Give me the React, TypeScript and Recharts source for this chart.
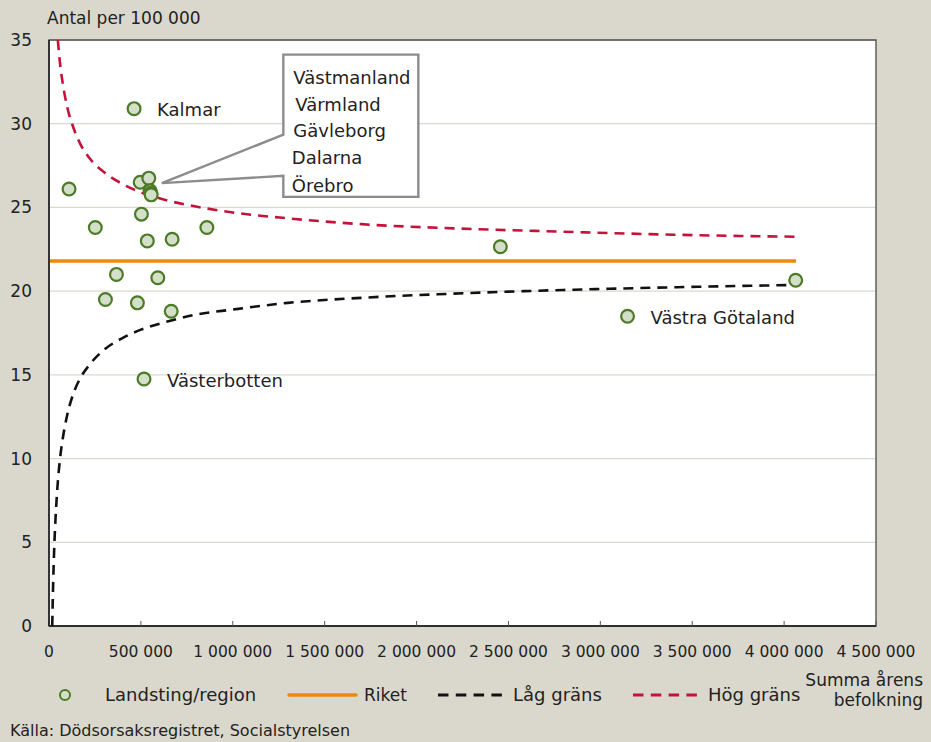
import React from 'react';
import {
  ComposedChart,
  Line,
  Scatter,
  XAxis,
  YAxis,
  CartesianGrid,
  ReferenceArea,
  ReferenceDot,
} from 'recharts';

// ---------- data ----------
const regionNames = [
  'Kalmar', 'Gotland', 'Region 3', 'Region 4', 'Region 5', 'Region 6', 'Region 7',
  'Region 8', 'Västmanland', 'Värmland', 'Gävleborg', 'Dalarna', 'Region 13',
  'Region 14', 'Region 15', 'Region 16', 'Region 17', 'Västerbotten', 'Skåne',
  'Västra Götaland', 'Stockholm',
];
const regionPopulation = [
  463000, 109000, 252000, 367000, 307000, 481000, 503000,
  496000, 543000, 550000, 554000, 556000, 535000,
  670000, 859000, 592000, 665000, 517000, 2456000,
  3148000, 4063000,
];
const regionRate = [
  30.9, 26.1, 23.8, 21.0, 19.5, 19.3, 24.6,
  26.5, 26.75, 26.0, 25.85, 25.75, 23.0,
  23.1, 23.8, 20.8, 18.8, 14.75, 22.65,
  18.5, 20.65,
];
const labelledRegions = ['Kalmar', 'Västerbotten', 'Västra Götaland'];
const calloutRegions = ['Västmanland', 'Värmland', 'Gävleborg', 'Dalarna', 'Örebro'];

const riketPopulation = [0, 4065000];
const riketRate = [21.8, 21.8];

const lowBoundPopulation = [
  17600, 20000, 25000, 30000, 40000, 48000, 60000, 75000, 100000, 130000, 170000,
  220000, 300000, 400000, 500000, 650000, 800000, 1000000, 1300000, 1700000,
  2200000, 2800000, 3400000, 4065000,
];
const lowBound = [
  0, 1.3, 3.5, 5.1, 7.3, 8.6, 10.0, 11.2, 12.65, 13.8, 14.8,
  15.6, 16.5, 17.2, 17.7, 18.2, 18.6, 18.9, 19.3, 19.6,
  19.85, 20.07, 20.23, 20.37,
];
const highBoundPopulation = [
  48000, 60000, 75000, 100000, 130000, 170000, 220000, 300000, 400000, 500000,
  650000, 800000, 1000000, 1300000, 1700000, 2200000, 2800000, 3400000, 4065000,
];
const highBound = [
  35.0, 33.6, 32.4, 30.95, 29.85, 28.8, 27.95, 27.1, 26.4, 25.9,
  25.4, 25.05, 24.7, 24.35, 24.0, 23.75, 23.55, 23.37, 23.25,
];

const xTicks = [0, 500000, 1000000, 1500000, 2000000, 2500000, 3000000, 3500000, 4000000, 4500000];
const yTicks = [0, 5, 10, 15, 20, 25, 30, 35];
const calloutAnchor = { x: 614000, y: 26.45 };

// ---------- built tables ----------
const regionData = regionNames.map((name, i) => ({
  name,
  x: regionPopulation[i],
  y: regionRate[i],
  label: labelledRegions.includes(name) ? name : '',
}));
const riketData = riketPopulation.map((x, i) => ({ x, y: riketRate[i] }));
const lowData = lowBoundPopulation.map((x, i) => ({ x, y: lowBound[i] }));
const highData = highBoundPopulation.map((x, i) => ({ x, y: highBound[i] }));

// ---------- styles ----------
const FONT = '"DejaVu Sans", Verdana, sans-serif';
const BG = '#DAD8CC';
const TEXT = '#222222';
const GRID = '#DAD8CF';
const GREEN = '#4C7A27';
const GREEN_FILL = '#D3DFC8';
const ORANGE = '#EC8A10';
const RED = '#C4123A';
const BLACK = '#111111';

const fmt = (v: number) => String(v).replace(/\B(?=(\d{3})+(?!\d))/g, ' ');

const renderPoint = (props: any) => {
  const { cx, cy, payload } = props;
  if (cx == null || cy == null) return <g />;
  return (
    <g>
      <circle cx={cx} cy={cy} r={6.4} fill={GREEN_FILL} stroke={GREEN} strokeWidth={2.2} />
      {payload && payload.label ? (
        <text x={cx + 23} y={cy + 1} dy="0.36em" fontSize={18} fontFamily={FONT} fill={TEXT}>
          {payload.label}
        </text>
      ) : null}
    </g>
  );
};

const renderCallout = (props: any) => {
  const { cx, cy } = props;
  if (cx == null || cy == null) return <g />;
  const left = cx + 121.5;
  const right = cx + 256.5;
  const top = cy - 128.5;
  const bottom = cy + 13.7;
  const d = `M${cx},${cy} L${left},${cy - 48.5} L${left},${top} L${right},${top} L${right},${bottom} L${left},${bottom} L${left},${cy - 7.3} Z`;
  const lineOffsets = [-105.5, -79, -53, -25.5, 2];
  const xOffsets = [10, 12, 10, 8.5, 8.5];
  return (
    <g>
      <path d={d} fill="#ffffff" stroke="#8C8C8C" strokeWidth={2.4} strokeLinejoin="miter" />
      {calloutRegions.map((n, i) => (
        <text
          key={n}
          x={left + xOffsets[i]}
          y={cy + lineOffsets[i]}
          dy="0.36em"
          fontSize={18}
          fontFamily={FONT}
          fill={TEXT}
        >
          {n}
        </text>
      ))}
    </g>
  );
};

const textStyle = (left: number, centerY: number, size: number, extra: any = {}) => ({
  position: 'absolute' as const,
  left,
  top: centerY - 11,
  height: 22,
  lineHeight: '22px',
  fontSize: size,
  fontFamily: FONT,
  color: TEXT,
  whiteSpace: 'nowrap' as const,
  ...extra,
});

export default function App() {
  return (
    <div
      style={{
        position: 'absolute',
        left: 0,
        top: 0,
        width: 931,
        height: 742,
        background: BG,
        overflow: 'hidden',
        fontFamily: FONT,
      }}
    >
      <div style={{ position: 'absolute', left: 0, top: 0 }}>
        <ComposedChart
          width={931}
          height={742}
          margin={{ top: 40, right: 55, bottom: 86, left: 0 }}
        >
          <CartesianGrid horizontal vertical={false} stroke={GRID} strokeWidth={1.2} fill="#ffffff" />
          <XAxis
            type="number"
            dataKey="x"
            domain={[0, 4500000]}
            ticks={xTicks}
            interval={0}
            allowDataOverflow
            height={30}
            tickSize={-5}
            tickMargin={25}
            tickFormatter={fmt}
            tick={{ fontSize: 15.5, fill: TEXT, fontFamily: FONT }}
            axisLine={{ stroke: '#1a1a1a', strokeWidth: 1.5 }}
            tickLine={{ stroke: '#555555', strokeWidth: 1 }}
          />
          <YAxis
            type="number"
            domain={[0, 35]}
            ticks={yTicks}
            interval={0}
            allowDataOverflow
            width={49}
            tickSize={0}
            tickMargin={17}
            tick={{ fontSize: 17, fill: TEXT, fontFamily: FONT }}
            axisLine={{ stroke: '#1a1a1a', strokeWidth: 1.5 }}
            tickLine={false}
          />
          <ReferenceArea
            x1={0}
            x2={4500000}
            y1={0}
            y2={35}
            fill="none"
            stroke="#4a4a4a"
            strokeWidth={1.3}
            isFront={false}
          />
          <Line
            data={riketData}
            dataKey="y"
            type="linear"
            stroke={ORANGE}
            strokeWidth={3.5}
            dot={false}
            activeDot={false}
            isAnimationActive={false}
          />
          <Line
            data={lowData}
            dataKey="y"
            type="monotone"
            stroke={BLACK}
            strokeWidth={2.6}
            strokeDasharray="10 7"
            dot={false}
            activeDot={false}
            isAnimationActive={false}
          />
          <Line
            data={highData}
            dataKey="y"
            type="monotone"
            stroke={RED}
            strokeWidth={2.6}
            strokeDasharray="10 7"
            dot={false}
            activeDot={false}
            isAnimationActive={false}
          />
          <Scatter data={regionData} dataKey="y" shape={renderPoint} isAnimationActive={false} />
          <ReferenceDot
            x={calloutAnchor.x}
            y={calloutAnchor.y}
            shape={renderCallout}
            isFront
          />
        </ComposedChart>
      </div>

      {/* axis titles */}
      <div style={textStyle(47, 18, 17)}>Antal per 100 000</div>
      <div style={textStyle(0, 680, 17, { left: 'auto', right: 8, textAlign: 'right' })}>Summa årens</div>
      <div style={textStyle(0, 700, 17, { left: 'auto', right: 8, textAlign: 'right' })}>befolkning</div>

      {/* legend */}
      <svg width={931} height={40} style={{ position: 'absolute', left: 0, top: 675 }}>
        <circle cx={65} cy={20} r={5} fill={GREEN_FILL} stroke={GREEN} strokeWidth={2} />
        <line x1={289} y1={20} x2={356} y2={20} stroke={ORANGE} strokeWidth={3.5} strokeLinecap="round" />
        <line x1={438} y1={20} x2={502} y2={20} stroke={BLACK} strokeWidth={3} strokeDasharray="10.5 7.3" />
        <line x1={633} y1={20} x2={697} y2={20} stroke={RED} strokeWidth={3} strokeDasharray="10.5 7.3" />
      </svg>
      <div style={textStyle(105, 695, 18)}>Landsting/region</div>
      <div style={textStyle(364, 695, 17)}>Riket</div>
      <div style={textStyle(513, 695, 18)}>Låg gräns</div>
      <div style={textStyle(708, 695, 18)}>Hög gräns</div>

      {/* source */}
      <div style={textStyle(10, 731, 16)}>Källa: Dödsorsaksregistret, Socialstyrelsen</div>
    </div>
  );
}
